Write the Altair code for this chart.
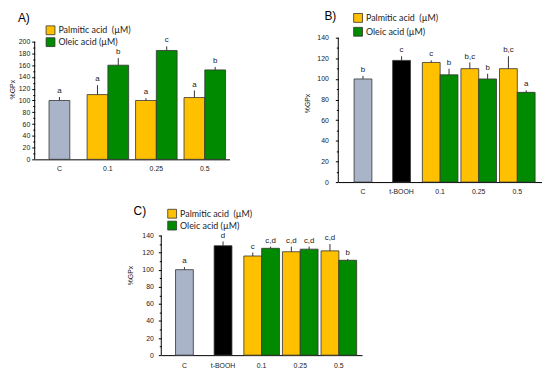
import altair as alt
import pandas as pd

PALM = "Palmitic acid\u00a0 (µM)"
OLEIC = "Oleic acid (µM)"
FONT = "Liberation Sans"
LFONT = "Lato"

# ---------------- data ----------------
conc = ["0.1", "0.25", "0.5"]

# Panel A
a_groups = ["C", "0.1", "0.25", "0.5"]
a_single = ["C"]
a_single_val = [100]
a_single_err = [6]
a_single_let = ["a"]
a_palm = [110, 100, 105]
a_palm_err = [16, 4, 12]
a_palm_let = ["a", "a", "a"]
a_oleic = [160, 185, 152]
a_oleic_err = [12, 7, 5]
a_oleic_let = ["b", "c", "b"]

# Panel B
b_groups = ["C", "t-BOOH", "0.1", "0.25", "0.5"]
b_single = ["C", "t-BOOH"]
b_single_val = [100, 118]
b_single_err = [3, 4]
b_single_let = ["b", "c"]
b_palm = [116, 110, 110]
b_palm_err = [2, 6, 12]
b_palm_let = ["c", "b,c", "b,c"]
b_oleic = [104, 100, 87]
b_oleic_err = [6, 5, 2]
b_oleic_let = ["b", "b", "a"]

# Panel C
c_groups = ["C", "t-BOOH", "0.1", "0.25", "0.5"]
c_single = ["C", "t-BOOH"]
c_single_val = [100, 128]
c_single_err = [3, 5]
c_single_let = ["a", "d"]
c_palm = [116, 121, 122]
c_palm_err = [4, 6, 8]
c_palm_let = ["c", "c,d", "c,d"]
c_oleic = [125, 124, 111]
c_oleic_err = [2, 3, 1.5]
c_oleic_let = ["c,d", "c,d", "b"]

COLORS = {PALM: "#ffc000", OLEIC: "#008a00", "C": "#a9b4c9", "t-BOOH": "#000000"}


def build_df(single, sv, se, sl, pv, pe, pl, ov, oe, ol):
    rows = []
    for g, v, e, l in zip(single, sv, se, sl):
        rows.append(dict(group=g, series=g, value=v, err=e, letter=l))
    for g, v, e, l in zip(conc, pv, pe, pl):
        rows.append(dict(group=g, series=PALM, value=v, err=e, letter=l))
    for g, v, e, l in zip(conc, ov, oe, ol):
        rows.append(dict(group=g, series=OLEIC, value=v, err=e, letter=l))
    return pd.DataFrame(rows)


def panel(df, groups, single, w, h, ymax, axis_top, pad_outer, bar_w,
          tp, lp, xlp, title_y, tag, tag_xy, leg_xy, row_pad):
    base = alt.Chart(df).transform_calculate(top="datum.value + datum.err")
    xenc = alt.X(
        "group:N",
        sort=groups,
        scale=alt.Scale(domain=groups, paddingInner=0, paddingOuter=pad_outer),
        axis=alt.Axis(
            title=None, labelAngle=0, ticks=False, domainColor="#000",
            labelFont=FONT, labelFontSize=7, labelColor="#222", labelPadding=xlp,
        ),
    )
    ticks = list(range(0, axis_top + 1, 10))
    yscale = alt.Scale(domain=[0, ymax], nice=False, zero=True)
    yaxis = alt.Axis(
        title="%GPx", values=ticks, labelOverlap=False, domain=False,
        labelExpr="datum.value % 20 === 0 ? datum.label : ''",
        tickSize={"condition": {"test": "datum.value % 20 === 0", "value": 3}, "value": 2},
        tickColor="#000", grid=False, labelPadding=lp,
        labelFont=FONT, labelFontSize=7, labelColor="#222",
        titleFont=FONT, titleFontSize=7, titleFontWeight="normal", titleColor="#222",
        titlePadding=tp, titleY=title_y,
    )
    cscale = alt.Scale(domain=list(COLORS.keys()), range=list(COLORS.values()))
    legend = alt.Legend(
        title=None, orient="none", legendX=leg_xy[0], legendY=leg_xy[1],
        values=[PALM, OLEIC], symbolType="square", symbolSize=80,
        symbolStrokeColor="#333", symbolStrokeWidth=0.8, symbolOpacity=1,
        labelFont=LFONT, labelFontSize=9, labelColor="#222", rowPadding=row_pad,
        padding=0, labelOffset=3,
    )
    half = bar_w / 2
    layers = []
    parts = [(single, 0), ([PALM], -half), ([OLEIC], half)]
    for k, (names, off) in enumerate(parts):
        sub = base.transform_filter(alt.FieldOneOfPredicate(field="series", oneOf=names))
        bar = sub.mark_bar(size=bar_w, xOffset=off, stroke="#333", strokeWidth=0.8).encode(
            x=xenc,
            y=alt.Y("value:Q", scale=yscale, axis=yaxis),
            color=alt.Color("series:N", scale=cscale, legend=legend if k == 0 else None),
        )
        rule = sub.mark_rule(xOffset=off, color="#333", strokeWidth=1).encode(
            x=alt.X("group:N", sort=groups), y=alt.Y("value:Q", axis=yaxis), y2="top:Q"
        )
        txt = sub.mark_text(xOffset=off, dy=-2, baseline="bottom", font=FONT, fontSize=8, color="#222").encode(
            x=alt.X("group:N", sort=groups), y=alt.Y("top:Q", axis=yaxis), text="letter:N"
        )
        layers += [bar, rule, txt]
    # y axis line drawn up to the last labelled value
    layers.append(
        alt.Chart(pd.DataFrame({"a": [0]})).mark_rule(color="#000", strokeWidth=1).encode(
            x=alt.value(0), y=alt.Y(datum=0, axis=yaxis), y2=alt.Y2(datum=axis_top)
        )
    )
    label = alt.Chart(pd.DataFrame({"t": [tag]})).mark_text(
        align="left", baseline="alphabetic", font=FONT, fontSize=12, color="#000"
    ).encode(text="t:N", x=alt.value(tag_xy[0]), y=alt.value(tag_xy[1]))
    layers.append(label)
    return alt.layer(*layers).properties(width=w, height=h)


dfA = build_df(a_single, a_single_val, a_single_err, a_single_let,
               a_palm, a_palm_err, a_palm_let, a_oleic, a_oleic_err, a_oleic_let)
dfB = build_df(b_single, b_single_val, b_single_err, b_single_let,
               b_palm, b_palm_err, b_palm_let, b_oleic, b_oleic_err, b_oleic_let)
dfC = build_df(c_single, c_single_val, c_single_err, c_single_let,
               c_palm, c_palm_err, c_palm_let, c_oleic, c_oleic_err, c_oleic_let)

A = panel(dfA, a_groups, a_single, 197, 123, 206.7, 200, 0.01, 21,
          3, 2, 5, 52, "A)", (-17, -16), (11, -12.5), -2)
B = panel(dfB, b_groups, b_single, 206, 146, 140, 140, 0.14, 18,
          6, 7, 6, 66, "B)", (-14, -18), (15, -25), 0)
C = panel(dfC, c_groups, c_single, 203, 121, 140, 140, 0.1, 18,
          8, 5, 7, 40, "C)", (-28, -21), (6, -27), -3)

spacer = alt.Chart(pd.DataFrame({"v": [0]})).mark_point(opacity=0, size=1).properties(width=93, height=10)

top = alt.hconcat(A, B, spacing=75).resolve_scale(color="independent", x="independent", y="independent")
bottom = alt.hconcat(spacer, C, spacing=0).resolve_scale(color="independent")

chart = alt.vconcat(top, bottom, spacing=10).resolve_scale(color="independent").properties(
    padding=0
).configure_view(stroke=None)

chart.save("out.html", embed_options={"renderer": "svg", "actions": False})
